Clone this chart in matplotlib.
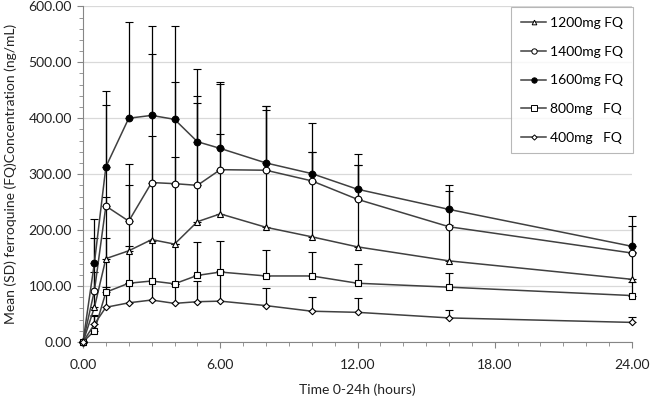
import matplotlib.pyplot as plt
import numpy as np
from matplotlib.ticker import MultipleLocator, FormatStrFormatter
from matplotlib.lines import Line2D

plt.rcParams['font.family'] = ['Lato', 'DejaVu Sans']

# sampling times (hours)
times = [0, 0.5, 1, 2, 3, 4, 5, 6, 8, 10, 12, 16, 24]

# mean concentrations (ng/mL)
mean_1200 = [0, 62, 149, 163, 183, 175, 215, 229, 205, 188, 170, 145, 112]
mean_1400 = [0, 92, 243, 216, 285, 283, 280, 308, 307, 288, 255, 206, 159]
mean_1600 = [0, 142, 313, 400, 405, 398, 358, 346, 320, 301, 273, 237, 171]
mean_800 = [0, 20, 89, 105, 109, 104, 119, 125, 118, 118, 105, 98, 83]
mean_400 = [0, 32, 62, 70, 75, 69, 72, 73, 65, 55, 53, 43, 35]

# standard deviations (only the upper bar is drawn)
sd_1200 = [0, 63, 111, 118, 186, 155, 212, 142, 210, 151, 147, 64, 48]
sd_1400 = [0, 93, 181, 102, 229, 182, 160, 153, 114, 51, 62, 63, 48]
sd_1600 = [0, 77, 136, 172, 159, 167, 130, 118, 101, 91, 63, 44, 55]
sd_800 = [0, 28, 96, 66, 71, 71, 59, 55, 47, 43, 35, 26, 25]
sd_400 = [0, 15, 36, 35, 34, 35, 37, 54, 31, 25, 26, 15, 9]

labels = ['1200mg FQ', '1400mg FQ', '1600mg FQ', '800mg   FQ', '400mg   FQ']

series = [
    (mean_1200, sd_1200, '^', 'white', 4.2),
    (mean_1400, sd_1400, 'o', 'white', 4.8),
    (mean_1600, sd_1600, 'o', 'black', 4.8),
    (mean_800, sd_800, 's', 'white', 4.8),
    (mean_400, sd_400, 'D', 'white', 3.3),
]

fig = plt.figure(figsize=(6.5, 4.05), dpi=100)
ax = fig.add_axes([0.1277, 0.1556, 0.8446, 0.8288])

handles = []
for (m, sd, mk, fc, ms), lab in zip(series, labels):
    ax.errorbar(times, m, yerr=[np.zeros(len(sd)), sd], color='#404040',
                lw=1.1, marker=mk, markersize=ms, markerfacecolor=fc,
                markeredgecolor='black', markeredgewidth=0.8,
                ecolor='black', elinewidth=0.9, capsize=3, capthick=0.9,
                zorder=3, clip_on=False)
    handles.append(Line2D([], [], color='#404040', lw=1.1, marker=mk,
                          markersize=ms * 0.8, markerfacecolor=fc,
                          markeredgecolor='black', markeredgewidth=0.7,
                          label=lab))

ax.set_xlim(0, 24)
ax.set_ylim(0, 600)
ax.xaxis.set_major_locator(MultipleLocator(6))
ax.xaxis.set_minor_locator(MultipleLocator(1))
ax.yaxis.set_major_locator(MultipleLocator(100))
ax.yaxis.set_minor_locator(MultipleLocator(20))
ax.xaxis.set_major_formatter(FormatStrFormatter('%.2f'))
ax.yaxis.set_major_formatter(FormatStrFormatter('%.2f'))

ax.grid(axis='y', which='major', color='#d9d9d9', lw=0.9, zorder=0)
ax.set_axisbelow(True)
for s in ['top', 'right']:
    ax.spines[s].set_visible(False)
for s in ['left', 'bottom']:
    ax.spines[s].set_color('#868686')
ax.tick_params(which='both', direction='out', color='#868686', labelsize=10,
               labelcolor='#222222')
ax.tick_params(which='major', length=4)
ax.tick_params(which='minor', length=3)
ax.tick_params(axis='x', pad=8)
ax.tick_params(axis='y', pad=4)

ax.set_xlabel('Time 0-24h (hours)', fontsize=10, color='#222222', labelpad=9)
ax.set_ylabel('Mean (SD) ferroquine (FQ)Concentration (ng/mL)', fontsize=10,
              color='#222222', labelpad=8)

leg = ax.legend(handles=handles, loc='upper right', bbox_to_anchor=(1.002, 0.997),
                fontsize=10, frameon=True, fancybox=False, handlelength=1.8,
                labelspacing=1.2, borderpad=0.7, handletextpad=0.3,
                borderaxespad=0)
leg.get_frame().set_edgecolor('#a6a6a6')
leg.get_frame().set_linewidth(0.8)

fig.savefig('out.png', dpi=100)
